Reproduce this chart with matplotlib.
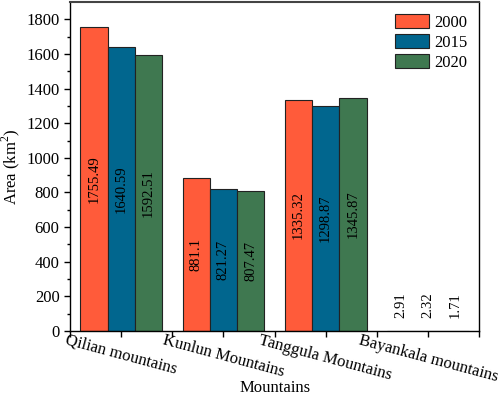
import matplotlib
matplotlib.use("Agg")
import matplotlib.pyplot as plt
import numpy as np

plt.rcParams.update({
    "font.family": ["Liberation Serif", "DejaVu Serif"],
    "mathtext.fontset": "custom",
    "mathtext.rm": "Liberation Serif",
    "xtick.direction": "out",
    "ytick.direction": "out",
})

# ── Data ─────────────────────────────────────────────────────────────
mountains = ["Qilian mountains", "Kunlun Mountains", "Tanggula Mountains", "Bayankala mountains"]
years = ["2000", "2015", "2020"]
area_2000 = [1755.49, 881.1, 1335.32, 2.91]
area_2015 = [1640.59, 821.27, 1298.87, 2.32]
area_2020 = [1592.51, 807.47, 1345.87, 1.71]
label_2000 = ["1755.49", "881.1", "1335.32", "2.91"]
label_2015 = ["1640.59", "821.27", "1298.87", "2.32"]
label_2020 = ["1592.51", "807.47", "1345.87", "1.71"]

colors = ["#FF5B3A", "#01668E", "#3F7850"]

fig = plt.figure(figsize=(4.98, 3.95), dpi=100)
ax = fig.add_axes([0.1406, 0.162, 0.8214, 0.833])

x = np.arange(len(mountains))
width = 0.8 / 3
series = [area_2000, area_2015, area_2020]
labels = [label_2000, label_2015, label_2020]

for k, (vals, labs) in enumerate(zip(series, labels)):
    pos = x + (k - 1) * width
    ax.bar(pos, vals, width, color=colors[k], edgecolor="#222222",
           linewidth=0.8, label=years[k])
    for xp, v, lab in zip(pos, vals, labs):
        if v > 100:
            ax.text(xp, v / 2, lab, rotation=90, ha="center", va="center",
                    fontsize=10.5)
        else:
            # tiny bars: put the value just above
            ax.annotate(lab, (xp, v), xytext=(0, 9), textcoords="offset points",
                        rotation=90, ha="center", va="bottom", fontsize=10.5)

ax.set_xlim(-0.5, 3.5)
ax.set_ylim(0, 1900)
ax.set_yticks(np.arange(0, 1801, 200))
ax.set_yticks(np.arange(100, 1900, 200), minor=True)
ax.set_xticks(x)
ax.set_xticks(np.append(x + 0.5, -0.5), minor=True)
ax.set_xticklabels(mountains, rotation=-15, ha="center", fontsize=12)
ax.tick_params(axis="y", labelsize=12, length=4, width=1)
ax.tick_params(axis="y", which="minor", length=2.5, width=1)
ax.tick_params(axis="x", which="both", length=4, width=1, pad=-3)

for sp in ax.spines.values():
    sp.set_linewidth(1.0)
ax.spines["top"].set_color("#444444")
ax.spines["top"].set_linewidth(1.5)

ax.set_ylabel("Area (km$^2$)", fontsize=12, labelpad=3)
ax.set_xlabel("Mountains", fontsize=12)
ax.xaxis.set_label_coords(0.501, -0.148)

ax.legend(loc="upper right", frameon=False, fontsize=12,
          handlelength=2.05, handleheight=0.96, labelspacing=0.18,
          handletextpad=0.3, borderaxespad=0.3)

fig.savefig("out.png", dpi=100)
